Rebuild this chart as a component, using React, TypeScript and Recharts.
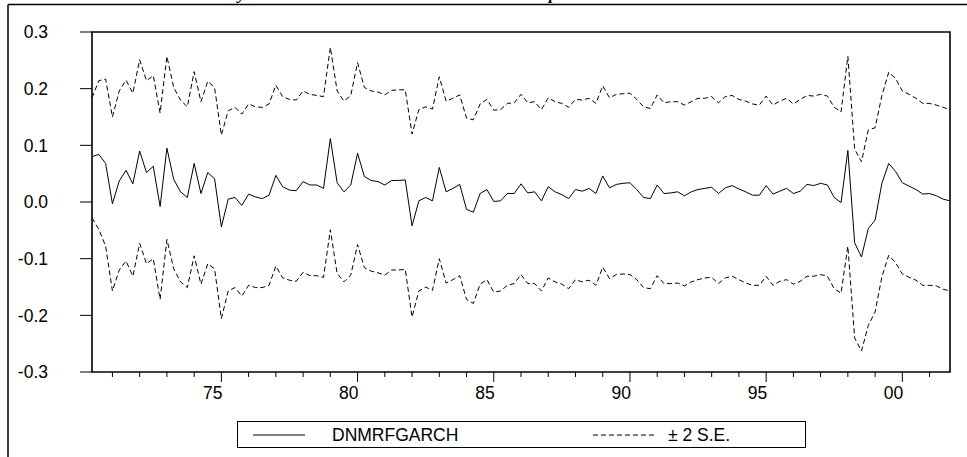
import React from 'react';
import { LineChart, Line, XAxis, YAxis, ReferenceArea } from 'recharts';

// quarterly series, first observation 1970Q2
const startYear = 1970;
const startQuarter = 2;

const forecast = [
  0.080, 0.084, 0.068, -0.003, 0.037, 0.056, 0.032, 0.090, 0.052, 0.063,
  -0.008, 0.095, 0.040, 0.018, 0.008, 0.068, 0.015, 0.052, 0.041, -0.044,
  0.005, 0.008, -0.006, 0.014, 0.009, 0.006, 0.012, 0.047, 0.027, 0.021,
  0.020, 0.036, 0.030, 0.030, 0.024, 0.112, 0.034, 0.018, 0.030, 0.086,
  0.045, 0.038, 0.036, 0.030, 0.038, 0.038, 0.039, -0.042, 0.002, 0.008,
  0.002, 0.061, 0.018, 0.024, 0.031, -0.013, -0.018, 0.015, 0.022, 0.001,
  0.002, 0.015, 0.015, 0.032, 0.016, 0.018, 0.002, 0.027, 0.018, 0.013,
  0.006, 0.022, 0.019, 0.024, 0.015, 0.046, 0.025, 0.031, 0.033, 0.034,
  0.022, 0.008, 0.006, 0.030, 0.015, 0.016, 0.018, 0.011, 0.018, 0.022,
  0.024, 0.026, 0.015, 0.025, 0.029, 0.023, 0.018, 0.012, 0.012, 0.029,
  0.014, 0.019, 0.024, 0.015, 0.019, 0.031, 0.029, 0.033, 0.030, 0.008,
  -0.001, 0.091, -0.072, -0.097, -0.047, -0.032, 0.033, 0.068, 0.054, 0.034,
  0.028, 0.022, 0.014, 0.015, 0.011, 0.005, 0.002,
];

const upperBand = [
  0.184, 0.214, 0.217, 0.150, 0.196, 0.215, 0.192, 0.251, 0.214, 0.223,
  0.157, 0.257, 0.202, 0.180, 0.168, 0.230, 0.177, 0.213, 0.202, 0.118,
  0.161, 0.167, 0.155, 0.173, 0.168, 0.167, 0.173, 0.206, 0.186, 0.181,
  0.180, 0.196, 0.190, 0.188, 0.186, 0.273, 0.196, 0.178, 0.188, 0.246,
  0.202, 0.196, 0.194, 0.189, 0.197, 0.198, 0.198, 0.120, 0.163, 0.168,
  0.164, 0.221, 0.178, 0.183, 0.189, 0.148, 0.145, 0.173, 0.181, 0.162,
  0.163, 0.174, 0.175, 0.190, 0.175, 0.177, 0.163, 0.184, 0.177, 0.174,
  0.167, 0.181, 0.180, 0.183, 0.174, 0.205, 0.184, 0.190, 0.191, 0.192,
  0.181, 0.168, 0.165, 0.189, 0.175, 0.177, 0.177, 0.171, 0.177, 0.183,
  0.183, 0.186, 0.175, 0.186, 0.188, 0.181, 0.178, 0.173, 0.171, 0.187,
  0.171, 0.178, 0.183, 0.173, 0.181, 0.188, 0.187, 0.190, 0.187, 0.167,
  0.159, 0.257, 0.093, 0.071, 0.127, 0.131, 0.188, 0.229, 0.218, 0.196,
  0.190, 0.183, 0.174, 0.174, 0.171, 0.167, 0.163,
];

const lowerBand = [
  -0.028, -0.048, -0.078, -0.157, -0.120, -0.104, -0.131, -0.073, -0.109, -0.100,
  -0.172, -0.066, -0.118, -0.141, -0.151, -0.095, -0.145, -0.109, -0.118, -0.206,
  -0.157, -0.151, -0.166, -0.147, -0.151, -0.151, -0.147, -0.113, -0.134, -0.138,
  -0.140, -0.124, -0.130, -0.130, -0.133, -0.049, -0.126, -0.141, -0.129, -0.075,
  -0.116, -0.122, -0.125, -0.129, -0.120, -0.120, -0.119, -0.203, -0.157, -0.150,
  -0.156, -0.100, -0.143, -0.137, -0.130, -0.172, -0.179, -0.145, -0.137, -0.159,
  -0.157, -0.147, -0.144, -0.128, -0.144, -0.144, -0.157, -0.134, -0.141, -0.145,
  -0.153, -0.137, -0.141, -0.138, -0.147, -0.115, -0.135, -0.128, -0.127, -0.128,
  -0.137, -0.151, -0.153, -0.130, -0.144, -0.144, -0.143, -0.148, -0.141, -0.137,
  -0.134, -0.133, -0.144, -0.134, -0.131, -0.137, -0.143, -0.147, -0.147, -0.131,
  -0.147, -0.140, -0.137, -0.145, -0.140, -0.131, -0.131, -0.128, -0.131, -0.153,
  -0.161, -0.078, -0.240, -0.263, -0.218, -0.194, -0.132, -0.094, -0.107, -0.127,
  -0.133, -0.138, -0.147, -0.147, -0.148, -0.154, -0.157,
];

const yTicks = [-0.3, -0.2, -0.1, 0.0, 0.1, 0.2, 0.3];
const majorYears = [1975, 1980, 1985, 1990, 1995, 2000];
const majorLabels = ['75', '80', '85', '90', '95', '00'];
const yearTicks = Array.from({ length: 31 }, (_, i) => 1971 + i);

const data = forecast.map((v, i) => ({
  t: startYear + (startQuarter - 1 + i) / 4,
  forecast: v,
  upper: upperBand[i],
  lower: lowerBand[i],
}));

const FONT = '"Liberation Sans", Arial, sans-serif';
const FS = 17.5;

const YearTick = (props: any) => {
  const { x, y, payload } = props;
  const idx = majorYears.indexOf(payload.value);
  const major = idx >= 0;
  return (
    <g>
      <line x1={x} y1={y} x2={x} y2={y + (major ? 10 : 5)} stroke="#000" strokeWidth={1} />
      {major && (
        <text x={x + 1} y={y + 27} textAnchor="end" fontSize={FS} fontFamily={FONT} fill="#000">
          {majorLabels[idx]}
        </text>
      )}
    </g>
  );
};

const App: React.FC = () => {
  return (
    <div style={{ position: 'absolute', left: 0, top: 0, width: 967, height: 457, overflow: 'hidden', background: '#fff' }}>
      {/* outer frame, clipped like the original export */}
      <svg width={967} height={457} style={{ position: 'absolute', left: 0, top: 0 }}>
        <line x1={8} y1={4.5} x2={967} y2={4.5} stroke="#000" strokeWidth={1.5} />
        <line x1={8} y1={4.5} x2={8} y2={457} stroke="#000" strokeWidth={1.5} />
        <text x={238} y={-1.5} fontSize={17} fontWeight="bold" fontStyle="italic" fontFamily='"Liberation Serif", serif'>y</text>
        <text x={549} y={-1.5} fontSize={17} fontWeight="bold" fontStyle="italic" fontFamily='"Liberation Serif", serif'>p</text>
      </svg>

      <div style={{ position: 'absolute', left: 0, top: 0 }}>
        <LineChart width={967} height={457} data={data} margin={{ top: 32, right: 17, bottom: 45, left: 32 }}>
          <XAxis
            dataKey="t"
            type="number"
            domain={[1970.25, 2001.75]}
            ticks={yearTicks}
            interval={0}
            axisLine={false}
            tickLine={false}
            tickSize={0}
            tickMargin={0}
            height={40}
            tick={<YearTick />}
          />
          <YAxis
            type="number"
            domain={[-0.3, 0.3]}
            ticks={yTicks}
            interval={0}
            width={60}
            axisLine={false}
            tickSize={12}
            tickMargin={32}
            tickLine={{ stroke: '#000' }}
            tick={{ fill: '#000', fontSize: FS, fontFamily: FONT }}
            tickFormatter={(v: number) => v.toFixed(1)}
          />
          <ReferenceArea x1={1970.25} x2={2001.75} y1={-0.3} y2={0.3} fill="none" stroke="#000" strokeWidth={1.6} />
          <Line type="linear" dataKey="upper" stroke="#000" strokeWidth={1} strokeDasharray="5 3" dot={false} isAnimationActive={false} />
          <Line type="linear" dataKey="forecast" stroke="#000" strokeWidth={1} dot={false} isAnimationActive={false} />
          <Line type="linear" dataKey="lower" stroke="#000" strokeWidth={1} strokeDasharray="5 3" dot={false} isAnimationActive={false} />
        </LineChart>
      </div>

      {/* legend box */}
      <svg width={570} height={28} style={{ position: 'absolute', left: 237, top: 421 }}>
        <rect x={0.5} y={0.5} width={568} height={26} fill="#fff" stroke="#000" strokeWidth={1} />
        <line x1={16} y1={14} x2={68} y2={14} stroke="#000" strokeWidth={1} />
        <text x={95} y={20} fontSize={FS} fontFamily={FONT} fill="#000">DNMRFGARCH</text>
        <line x1={356} y1={14} x2={420} y2={14} stroke="#000" strokeWidth={1} strokeDasharray="5 3" />
        <text x={431} y={20} fontSize={FS} fontFamily={FONT} fill="#000">± 2 S.E.</text>
      </svg>
    </div>
  );
};

export default App;
